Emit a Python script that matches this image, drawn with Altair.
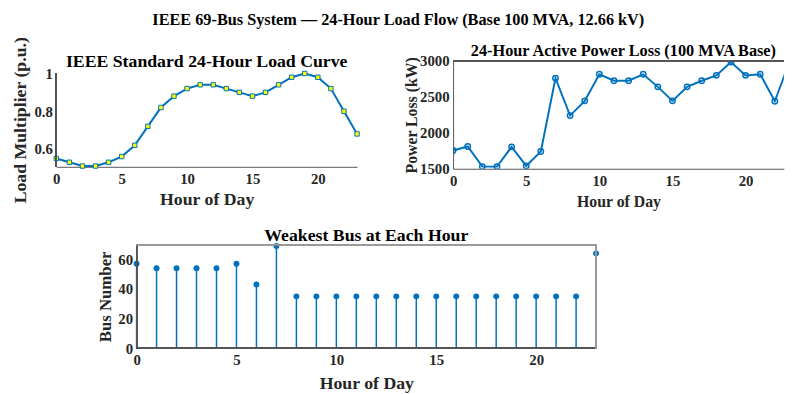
import altair as alt
import pandas as pd

# ---------------- data ----------------
hours = list(range(24))
load_pu = [0.55, 0.53, 0.51, 0.51, 0.53, 0.56, 0.62, 0.72, 0.82, 0.88, 0.92, 0.94,
           0.94, 0.92, 0.90, 0.88, 0.90, 0.94, 0.98, 1.00, 0.98, 0.92, 0.80, 0.68]
loss_kw = [1755, 1810, 1530, 1530, 1805, 1540, 1740, 2760, 2240, 2445, 2815, 2725,
           2725, 2815, 2640, 2445, 2640, 2725, 2800, 2985, 2800, 2815, 2440, 2990]
weak_bus = [57, 54, 54, 54, 54, 57, 43, 69, 35, 35, 35, 35,
            35, 35, 35, 35, 35, 35, 35, 35, 35, 35, 35, 64]
hour_ticks = [0, 5, 10, 15, 20]
load_ticks = [0.6, 0.8, 1.0]
loss_ticks = [1500, 2000, 2500, 3000]
bus_ticks = [0, 20, 40, 60]

FONT = "Liberation Serif"
BLUE = "#0072BD"
TXT = "#262626"
AXL = "#555555"
NOVIEW = alt.ViewBackground(stroke="transparent", fill="transparent")


def axis(values, **kw):
    base = dict(values=values, tickCount=len(values) + 2,
                labelFont=FONT, labelFontWeight="bold", labelFontSize=15, labelColor=TXT,
                titleFont=FONT, titleFontWeight="bold", titleFontSize=17, titleColor=TXT,
                ticks=False, grid=False, domainColor=AXL, labelPadding=5,
                labelOverlap=False, labelFlush=False)
    base.update(kw)
    return alt.Axis(**base)


def title(text, size, dy=0, dx=0):
    return alt.TitleParams(text, font=FONT, fontSize=size, fontWeight="bold", color="black",
                           frame="group", anchor="middle", offset=0, dx=dx, dy=dy)


# ---------------- panel 1: load curve ----------------
df1 = pd.DataFrame({"hour": hours, "load": load_pu})
x1 = alt.X("hour:Q", scale=alt.Scale(domain=[0, 23], nice=False, zero=False),
           axis=axis(hour_ticks, title="Hour of Day", titleFontSize=18))
y1 = alt.Y("load:Q", scale=alt.Scale(domain=[0.506, 1.066], nice=False, zero=False),
           axis=axis(load_ticks, format="~g", title="Load Multiplier (p.u.)",
                     domain=False, titleY=59.6, labelPadding=4, titleFontSize=18))
b1 = alt.Chart(df1).encode(x=x1, y=y1)
p1 = alt.layer(
    b1.mark_line(color=BLUE, strokeWidth=2),
    b1.mark_point(shape="square", filled=True, fill="#FFFF00", stroke=BLUE,
                  strokeWidth=1, size=20, opacity=1),
    alt.Chart(df1).mark_rule(color=AXL).encode(x=alt.datum(0), y=alt.datum(0.506), y2=alt.datum(1.0)),
).properties(width=305, height=107.3, view=NOVIEW,
             title=title("IEEE Standard 24-Hour Load Curve", 18, dy=35))

# ---------------- panel 2: losses ----------------
df2 = pd.DataFrame({"hour": hours, "loss": loss_kw})
x2 = alt.X("hour:Q", scale=alt.Scale(domain=[0, 22.62], nice=False, zero=False),
           axis=axis(hour_ticks, title="Hour of Day", titleFontSize=16, titlePadding=5))
y2 = alt.Y("loss:Q", scale=alt.Scale(domain=[1500, 3000], nice=False, zero=False),
           axis=axis(loss_ticks, format="d", title="Power Loss (kW)", labelPadding=4,
                     titleFontSize=16, titlePadding=0))
b2 = alt.Chart(df2).encode(x=x2, y=y2)
p2 = alt.layer(
    b2.mark_line(color=BLUE, strokeWidth=2, clip=True),
    b2.mark_point(shape="circle", filled=False, stroke=BLUE, strokeWidth=1.5, size=30,
                  opacity=1, clip=True),
    alt.Chart(df2).mark_rule(color=AXL).encode(y=alt.datum(3000)),
).properties(width=335.5, height=109.3, view=NOVIEW,
             title=title("24-Hour Active Power Loss (100 MVA Base)", 16.5, dy=5.5, dx=5))

# ---------------- panel 3: weakest bus ----------------
df3 = pd.DataFrame({"hour": hours, "bus": weak_bus})
x3 = alt.X("hour:Q", scale=alt.Scale(domain=[0, 23], range=[81.4, 547.4], nice=False, zero=False),
           axis=axis(hour_ticks, title="Hour of Day", domain=False, titleX=314.4,
                     titleFontSize=18, titlePadding=7))
y3 = alt.Y("bus:Q", scale=alt.Scale(domain=[0, 70], nice=False, zero=False),
           axis=axis(bus_ticks, title="Bus Number", domain=False, offset=-81.4,
                     labelPadding=4, titlePadding=3))
b3 = alt.Chart(df3).encode(x=x3, y=y3)
frame = alt.Chart(df3)
p3 = alt.layer(
    b3.mark_rule(color=BLUE, strokeWidth=1.5).encode(y2=alt.datum(0)),
    b3.mark_circle(color=BLUE, size=36, opacity=1),
    frame.mark_rule(color=AXL).encode(x=alt.datum(0), x2=alt.datum(23), y=alt.datum(0)),
    frame.mark_rule(color=AXL).encode(x=alt.datum(0), y=alt.datum(0), y2=alt.datum(70)),
    frame.mark_rule(color="#999999").encode(x=alt.datum(0), x2=alt.datum(23), y=alt.datum(70)),
    frame.mark_rule(color="#999999").encode(x=alt.datum(23), y=alt.datum(0), y2=alt.datum(70)),
).properties(width=305, height=105, view=NOVIEW,
             title=title("Weakest Bus at Each Hour", 18, dy=1.5, dx=161.9))

chart = alt.concat(
    p1, p2, p3, columns=2,
    spacing=alt.RowColnumber(row=76.2, column=97.4),
    bounds="flush", align="none",
    title=alt.TitleParams("IEEE 69-Bus System \u2014 24-Hour Load Flow (Base 100 MVA, 12.66 kV)",
                          font=FONT, fontSize=16.5, fontWeight="bold", color="black",
                          anchor="middle", offset=7.5),
).properties(
    padding={"left": 3, "top": 1, "right": 0, "bottom": 0},
    background="white",
).configure_view(stroke="transparent").configure(font=FONT)

chart.save("out.html", embed_options={"renderer": "svg", "actions": False})
